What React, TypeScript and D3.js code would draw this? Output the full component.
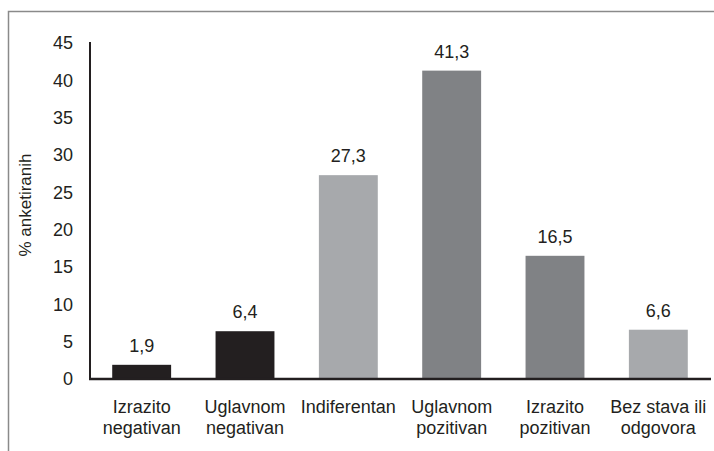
import React from "react";
import * as d3 from "d3";

const categories: string[][] = [
  ["Izrazito", "negativan"],
  ["Uglavnom", "negativan"],
  ["Indiferentan"],
  ["Uglavnom", "pozitivan"],
  ["Izrazito", "pozitivan"],
  ["Bez stava ili", "odgovora"],
];
const values: number[] = [1.9, 6.4, 27.3, 41.3, 16.5, 6.6];
const valueLabels: string[] = ["1,9", "6,4", "27,3", "41,3", "16,5", "6,6"];
const barColors: string[] = ["#231f20", "#231f20", "#a7a9ac", "#808285", "#808285", "#a7a9ac"];
const yTicks: number[] = [0, 5, 10, 15, 20, 25, 30, 35, 40, 45];
const yTitle = "% anketiranih";

export default function App() {
  const W = 714, H = 451;
  const x0 = 90, x1 = 710, yTop = 43, yBot = 379;
  const x = d3.scaleBand<number>().domain(d3.range(values.length)).range([x0, x1]).paddingInner(0.43).paddingOuter(0.215);
  const y = d3.scaleLinear().domain([0, 45]).range([yBot, yTop]);
  const font = "'Liberation Sans', Arial, sans-serif";
  return (
    <svg width={W} height={H} style={{ position: "absolute", left: 0, top: 0 }} fontFamily={font}>
      <rect x={0} y={0} width={W} height={H} fill="#fff" />
      <rect x={8.5} y={11.5} width={740} height={480} fill="none" stroke="#8a8a8a" strokeWidth={1.5} />
      {values.map((v, i) => (
        <g key={i}>
          <rect x={x(i)} y={y(v)} width={x.bandwidth()} height={yBot - y(v)} fill={barColors[i]} />
          <text x={x(i)! + x.bandwidth() / 2} y={y(v) - 13} textAnchor="middle" fontSize={18} fill="#231f20">
            {valueLabels[i]}
          </text>
          {categories[i].map((line, j) => (
            <text key={j} x={x(i)! + x.bandwidth() / 2} y={413 + j * 21} textAnchor="middle" fontSize={18} fill="#231f20">
              {line}
            </text>
          ))}
        </g>
      ))}
      {yTicks.map((t) => (
        <text key={t} x={73} y={y(t)} dy="0.36em" textAnchor="end" fontSize={18} fill="#231f20">
          {t}
        </text>
      ))}
      <line x1={x0} x2={x0} y1={yTop - 1} y2={yBot} stroke="#231f20" strokeWidth={2} />
      <line x1={x0 - 1} x2={x1 + 1} y1={yBot} y2={yBot} stroke="#231f20" strokeWidth={2.5} />
      <text transform={`translate(31,205) rotate(-90)`} textAnchor="middle" fontSize={17} fill="#231f20">
        {yTitle}
      </text>
    </svg>
  );
}
